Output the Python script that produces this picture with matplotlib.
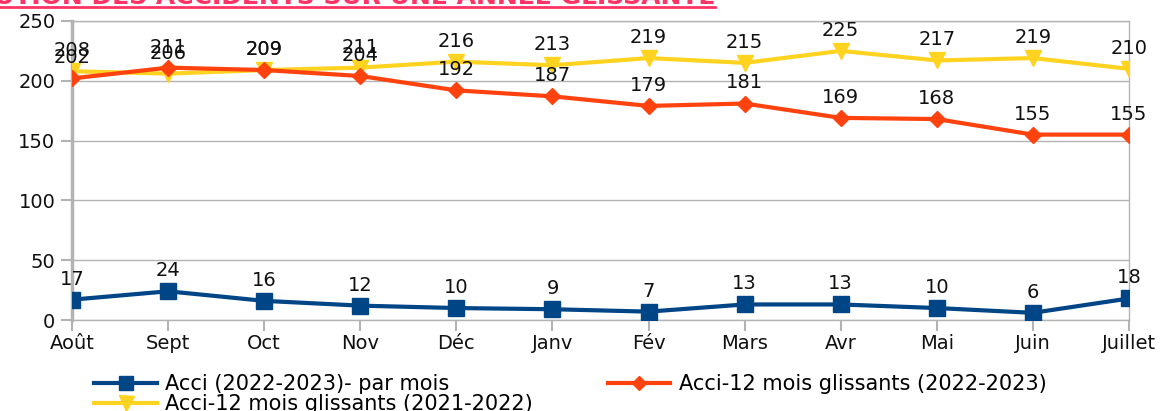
import matplotlib.pyplot as plt
from matplotlib.lines import Line2D

months = ["Août", "Sept", "Oct", "Nov", "Déc", "Janv", "Fév", "Mars", "Avr", "Mai", "Juin", "Juillet"]
acci_month = [17, 24, 16, 12, 10, 9, 7, 13, 13, 10, 6, 18]
glissant_2223 = [202, 211, 209, 204, 192, 187, 179, 181, 169, 168, 155, 155]
glissant_2122 = [208, 206, 209, 211, 216, 213, 219, 215, 225, 217, 219, 210]

plt.rcParams['font.family'] = ['DejaVu Sans']

W, H = 1166, 411
fig = plt.figure(figsize=(W / 100, H / 100), dpi=100)
ax = fig.add_axes([72 / W, 1 - 320 / H, (1129 - 72) / W, (320 - 21) / H])

navy, orange, yellow = "#004586", "#ff420e", "#ffd320"
grid_c = "#b3b3b3"
x = list(range(len(months)))

ax.plot(x, glissant_2122, color=yellow, lw=3, marker="v", ms=12, zorder=3,
        label="Acci-12 mois glissants (2021-2022)")
ax.plot(x, glissant_2223, color=orange, lw=3, marker="D", ms=8, zorder=4,
        label="Acci-12 mois glissants (2022-2023)")
ax.plot(x, acci_month, color=navy, lw=3, marker="s", ms=11, zorder=5,
        label="Acci (2022-2023)- par mois")

# value labels
for series in (glissant_2122, glissant_2223, acci_month):
    for i, v in enumerate(series):
        ax.annotate(str(v), (i, v), xytext=(0, 8), textcoords="offset points",
                    ha="center", va="bottom", fontsize=14, color="#111111", zorder=6)

ax.set_xlim(0, len(months) - 1)
ax.set_ylim(0, 250)
ax.set_yticks(range(0, 251, 50))
ax.set_xticks(x)
ax.set_xticklabels(months)
ax.grid(axis="y", color=grid_c, lw=1)
ax.set_axisbelow(True)
for s in ["top", "right", "bottom"]:
    ax.spines[s].set_color(grid_c)
    ax.spines[s].set_linewidth(1)
ax.spines["left"].set_color(grid_c)
ax.spines["left"].set_linewidth(2.5)
ax.tick_params(axis="both", colors=grid_c, labelcolor="#111111", labelsize=14, length=8, width=1.5)
ax.tick_params(axis="x", pad=2)
ax.tick_params(axis="y", pad=4)

# legend: navy + orange on the first row, yellow below
h, l = ax.get_legend_handles_labels()
order = [2, 0, 1]
leg = fig.legend([h[i] for i in order], [l[i] for i in order], ncol=2,
                 loc="upper left", bbox_to_anchor=(86 / W, 1 - 366 / H),
                 frameon=False, fontsize=15, handlelength=3.0, columnspacing=3.6,
                 labelspacing=0.0, handletextpad=0.4, borderaxespad=0, markerscale=0.9)

# truncated title at the very top
fig.text(715 / W, 1 - 4 / H, "ÉVOLUTION DES ACCIDENTS SUR UNE ANNÉE GLISSANTE",
         ha="right", va="baseline", fontsize=18, fontweight="bold", color="#ff3366")
fig.add_artist(Line2D([0, 715 / W], [1 - 7.5 / H, 1 - 7.5 / H], transform=fig.transFigure,
                      color="#ff3366", lw=2))

fig.savefig("out.png", dpi=100)
